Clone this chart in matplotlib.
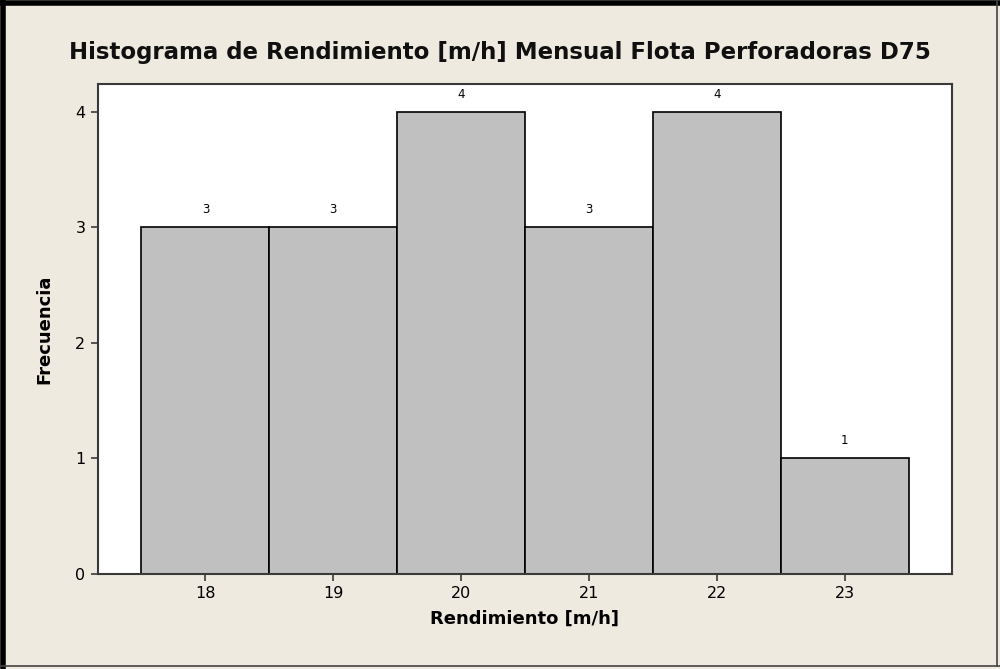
import matplotlib.pyplot as plt
from matplotlib.lines import Line2D

# histogram bins (midpoints) and counts
bin_mids = [18, 19, 20, 21, 22, 23]
counts = [3, 3, 4, 3, 4, 1]
yticks = [0, 1, 2, 3, 4]

BG = '#eeeae0'
FRAME = '#3a3a3a'

fig = plt.figure(figsize=(10, 6.69), dpi=100)
fig.patch.set_facecolor(BG)
ax = fig.add_axes([0.098, 1 - 574 / 669, 0.854, 490 / 669])
ax.set_facecolor('white')

bars = ax.bar(bin_mids, counts, width=1.0, color='#c0c0c0', edgecolor='black', linewidth=1.2)
for b, c in zip(bars, counts):
    ax.annotate(str(c), xy=(b.get_x() + b.get_width() / 2, c), xytext=(0, 8),
                textcoords='offset points', ha='center', va='bottom', fontsize=8.5)

ax.set_xlim(17.16, 23.84)
ax.set_ylim(0, 4.24)
ax.set_xticks(bin_mids)
ax.set_yticks(yticks)
ax.tick_params(direction='out', length=5, width=1.2, color=FRAME, labelsize=11.5, pad=4)
for s in ax.spines.values():
    s.set_color(FRAME)
    s.set_linewidth(1.5)

ax.set_xlabel('Rendimiento [m/h]', fontsize=13, fontweight='bold', labelpad=6)
ax.set_ylabel('Frecuencia', fontsize=13, fontweight='bold', labelpad=16)
fig.text(0.5, 1 - 52 / 669, 'Histograma de Rendimiento [m/h] Mensual Flota Perforadoras D75',
         ha='center', va='center', fontsize=16.5, fontweight='bold', color='#101010')

# window frame around the figure
fig.add_artist(Line2D([0.003, 0.003], [0, 1], transform=fig.transFigure, color='black', lw=4))
fig.add_artist(Line2D([0, 1], [0.996, 0.996], transform=fig.transFigure, color='black', lw=4))
fig.add_artist(Line2D([0.997, 0.997], [0.004, 1], transform=fig.transFigure, color='#444444', lw=1.2))
fig.add_artist(Line2D([0, 1], [0.004, 0.004], transform=fig.transFigure, color='#444444', lw=1.2))

plt.savefig('out.png', dpi=100, facecolor=BG)
